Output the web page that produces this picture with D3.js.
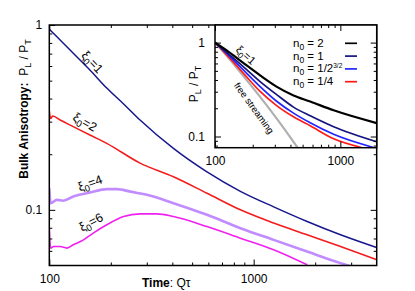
<!DOCTYPE html>
<html lang="en">
<head>
<meta charset="UTF-8">
<script src="https://d3js.org/d3.v7.min.js"></script>
<title>Bulk anisotropy</title>
<style>
  body { margin: 0; background: #fff; }
  text { font-family: "Liberation Sans", Arial, sans-serif; }
</style>
</head>
<body>
<svg width="415" height="291" id="mainsvg"></svg>
<script>
// main panel: P_L/P_T against Q tau, one curve per xi0
const xi1Tau = [100, 113, 131, 158, 191, 231, 278, 405, 591, 861, 1253, 1827, 2661, 4000];
const xi1Val = [0.948, 0.83, 0.703, 0.571, 0.456, 0.374, 0.306, 0.215, 0.1605, 0.126, 0.1038, 0.0865, 0.0733, 0.0625];

const xi2Tau = [100, 101.5, 104, 113, 131, 158, 191, 278, 405, 591, 861, 1253, 1827, 2661, 4000];
const xi2Val = [0.343, 0.312, 0.322, 0.306, 0.282, 0.254, 0.229, 0.179, 0.151, 0.123, 0.1, 0.0848, 0.0733, 0.0633, 0.0537];

const xi4Tau = [100, 101.5, 109, 117, 131, 158, 191, 214, 249, 300, 405, 591, 861, 1253, 1827, 2661, 3000];
const xi4Val = [0.131, 0.1087, 0.1133, 0.112, 0.118, 0.124, 0.1294, 0.1294, 0.1255, 0.1206, 0.1087, 0.094, 0.0796, 0.0688, 0.0595, 0.0515, 0.0495];

const xi6Tau = [100, 101.5, 105, 113, 122, 131, 147, 164, 191, 231, 278, 336, 405, 591, 861, 1253, 1827];
const xi6Val = [0.0796, 0.0621, 0.0633, 0.0633, 0.0621, 0.0647, 0.0688, 0.0748, 0.083, 0.092, 0.0951, 0.0951, 0.092, 0.0812, 0.0703, 0.0608, 0.0504];

// inset: xi0 = 1 with different n0, plus free streaming
const insetTau = [100, 124, 168, 229, 312, 423, 575, 884, 1950];
const n2Val = [1.0, 0.826, 0.608, 0.448, 0.338, 0.274, 0.236, 0.19, 0.139];
const n1Val = [1.0, 0.787, 0.555, 0.385, 0.278, 0.2055, 0.166, 0.127, 0.0879];
const nSqrtTau = [100, 124, 168, 229, 312, 423, 575, 884, 1837];
const nSqrtVal = [1.0, 0.767, 0.512, 0.34, 0.236, 0.1774, 0.14, 0.1055, 0.0764];
const nQuarterTau = [100, 124, 168, 229, 312, 423, 575, 884, 1472];
const nQuarterVal = [1.0, 0.74, 0.4735, 0.302, 0.212, 0.162, 0.13, 0.0945, 0.0764];
const fsTau = [100, 124, 168, 229, 312, 455];
const fsVal = [1.0, 0.722, 0.442, 0.264, 0.154, 0.0764];

const legendLabels = [['2', ''], ['1', ''], ['1/2', '3/2'], ['1/4', '']];

const svg = d3.select('#mainsvg');
const font = '"Liberation Sans", Arial, sans-serif';

const x = d3.scaleLog().domain([100, 4000]).range([49.3, 376.7]);
const y = d3.scaleLog().domain([0.05, 1]).range([265.5, 25]);
const xi = d3.scaleLog().domain([100, 1950]).range([215, 376.7]);
const yi = d3.scaleLog().domain([0.076, 1.54]).range([147.7, 25]);

const zip = (a, b) => a.map((t, i) => [t, b[i]]);

function addClip(id, xs, ys) {
    svg.append('clipPath').attr('id', id).append('rect')
        .attr('x', xs.range()[0]).attr('y', ys.range()[1])
        .attr('width', xs.range()[1] - xs.range()[0])
        .attr('height', ys.range()[0] - ys.range()[1]);
}
addClip('clipMain', x, y);
addClip('clipInset', xi, yi);

function drawLine(g, xs, ys, data, color, w) {
    const line = d3.line().x(d => xs(d[0])).y(d => ys(d[1])).curve(d3.curveMonotoneX);
    g.append('path').attr('d', line(data))
        .attr('fill', 'none').attr('stroke', color).attr('stroke-width', w)
        .attr('stroke-linejoin', 'round');
}

function drawTicks(xs, ys, xMajor, xMinor, yMajor, yMinor, xPad, yPad) {
    const bottom = ys.range()[0], top = ys.range()[1];
    const left = xs.range()[0], right = xs.range()[1];
    const fmt = d3.format('~g');
    const parts = [
        [d3.axisBottom(xs).tickValues(xMajor).tickSize(-6).tickPadding(xPad).tickFormat(fmt), `translate(0,${bottom})`],
        [d3.axisBottom(xs).tickValues(xMinor).tickSize(-3).tickFormat(''), `translate(0,${bottom})`],
        [d3.axisTop(xs).tickValues(xMajor).tickSize(-6).tickFormat(''), `translate(0,${top})`],
        [d3.axisTop(xs).tickValues(xMinor).tickSize(-3).tickFormat(''), `translate(0,${top})`],
        [d3.axisLeft(ys).tickValues(yMajor).tickSize(-6).tickPadding(yPad).tickFormat(fmt), `translate(${left},0)`],
        [d3.axisLeft(ys).tickValues(yMinor).tickSize(-3).tickFormat(''), `translate(${left},0)`],
        [d3.axisRight(ys).tickValues(yMajor).tickSize(-6).tickFormat(''), `translate(${right},0)`],
        [d3.axisRight(ys).tickValues(yMinor).tickSize(-3).tickFormat(''), `translate(${right},0)`]
    ];
    parts.forEach(([axis, tr]) => {
        const a = svg.append('g').attr('transform', tr).call(axis);
        a.select('.domain').remove();
        a.attr('font-family', font).attr('font-size', 12);
        a.selectAll('line').attr('stroke', '#000').attr('stroke-width', 1);
        a.selectAll('text').attr('fill', '#000');
    });
}

// ---- main panel ----
const gMain = svg.append('g').attr('clip-path', 'url(#clipMain)');
drawLine(gMain, x, y, zip(xi1Tau, xi1Val), '#17178e', 1.5);
drawLine(gMain, x, y, zip(xi2Tau, xi2Val), '#f41c1c', 1.6);
drawLine(gMain, x, y, zip(xi4Tau, xi4Val), '#c08cff', 2.6);
drawLine(gMain, x, y, zip(xi6Tau, xi6Val), '#f020f0', 1.6);

drawTicks(x, y, [100, 1000], [200, 300, 400, 500, 600, 700, 800, 900, 2000, 3000],
    [0.1, 1], [0.06, 0.07, 0.08, 0.09, 0.2, 0.3, 0.4, 0.5, 0.6, 0.7, 0.8, 0.9], 9, 7);

svg.append('rect')
    .attr('x', x.range()[0]).attr('y', y.range()[1])
    .attr('width', x.range()[1] - x.range()[0]).attr('height', y.range()[0] - y.range()[1])
    .attr('fill', 'none').attr('stroke', '#000').attr('stroke-width', 1.5);

// curve labels
function xiLabel(cx, cy, angle, num, size) {
    const t = svg.append('text')
        .attr('transform', `translate(${cx},${cy}) rotate(${angle})`)
        .attr('text-anchor', 'middle').attr('dy', '0.35em')
        .attr('font-size', size).attr('fill', '#000');
    t.append('tspan').text('\u03be');
    t.append('tspan').attr('dy', 3).attr('font-size', size * 0.75).text('0');
    t.append('tspan').attr('dy', -3).text('=' + num);
}
xiLabel(92.5, 62, 47, 1, 12.5);
xiLabel(85, 122, 30, 2, 12.5);
xiLabel(90, 183, -20, 4, 12.5);
xiLabel(91, 222, -28, 6, 12.5);

// axis titles
const xt = svg.append('text').attr('x', 142).attr('y', 287).attr('font-size', 12).attr('fill', '#000');
xt.append('tspan').attr('font-weight', 'bold').text('Time');
xt.append('tspan').text(': Q\u03c4');

const yt = svg.append('text').attr('transform', 'translate(28,109) rotate(-90)')
    .attr('text-anchor', 'middle').attr('font-size', 12).attr('fill', '#000');
yt.append('tspan').attr('font-weight', 'bold').text('Bulk Anisotropy:');
yt.append('tspan').text('\u00a0\u00a0P');
yt.append('tspan').attr('dy', 3).attr('font-size', 9).text('L');
yt.append('tspan').attr('dy', -3).text(' / P');
yt.append('tspan').attr('dy', 3).attr('font-size', 9).text('T');

// ---- inset ----
svg.append('rect')
    .attr('x', xi.range()[0]).attr('y', yi.range()[1])
    .attr('width', xi.range()[1] - xi.range()[0]).attr('height', yi.range()[0] - yi.range()[1])
    .attr('fill', '#fff');

const gIn = svg.append('g').attr('clip-path', 'url(#clipInset)');
drawLine(gIn, xi, yi, zip(fsTau, fsVal), '#b0b0b0', 2.2);
drawLine(gIn, xi, yi, zip(nQuarterTau, nQuarterVal), '#ff1a1a', 1.7);
drawLine(gIn, xi, yi, zip(nSqrtTau, nSqrtVal), '#2424ff', 1.7);
drawLine(gIn, xi, yi, zip(insetTau, n1Val), '#14147f', 1.7);
drawLine(gIn, xi, yi, zip(insetTau, n2Val), '#000000', 2.2);

drawTicks(xi, yi, [100, 1000], [200, 300, 400, 500, 600, 700, 800, 900],
    [0.1, 1], [0.08, 0.09, 0.2, 0.3, 0.4, 0.5, 0.6, 0.7, 0.8, 0.9], 9, 10);

svg.append('rect')
    .attr('x', xi.range()[0]).attr('y', yi.range()[1])
    .attr('width', xi.range()[1] - xi.range()[0]).attr('height', yi.range()[0] - yi.range()[1])
    .attr('fill', 'none').attr('stroke', '#000').attr('stroke-width', 1.5);

// inset legend
const legendColors = ['#000000', '#14147f', '#2424ff', '#ff1a1a'];
legendLabels.forEach((lab, i) => {
    const ly = 43.3 + i * 12.8;
    svg.append('line').attr('x1', 345).attr('x2', 357).attr('y1', ly).attr('y2', ly)
        .attr('stroke', legendColors[i]).attr('stroke-width', 1.7);
    const t = svg.append('text').attr('x', 293).attr('y', ly + 3.5)
        .attr('font-size', 11.5).attr('fill', '#000');
    t.append('tspan').text('n');
    t.append('tspan').attr('dy', 3).attr('font-size', 8.5).text('0');
    t.append('tspan').attr('dy', -3).text(' = ' + lab[0]);
    if (lab[1]) t.append('tspan').attr('dy', -4).attr('font-size', 6.5).text(lab[1]);
});

xiLabel(246, 55, 42, 1, 11);
svg.append('text').attr('transform', 'translate(254,108) rotate(54)')
    .attr('text-anchor', 'middle').attr('dy', '0.35em')
    .attr('font-size', 9.5).attr('fill', '#000').text('free streaming');

const it = svg.append('text').attr('transform', 'translate(198,84) rotate(-90)')
    .attr('text-anchor', 'middle').attr('font-size', 12).attr('fill', '#000');
it.append('tspan').text('P');
it.append('tspan').attr('dy', 3).attr('font-size', 9).text('L');
it.append('tspan').attr('dy', -3).text(' / P');
it.append('tspan').attr('dy', 3).attr('font-size', 9).text('T');
</script>
</body>
</html>
